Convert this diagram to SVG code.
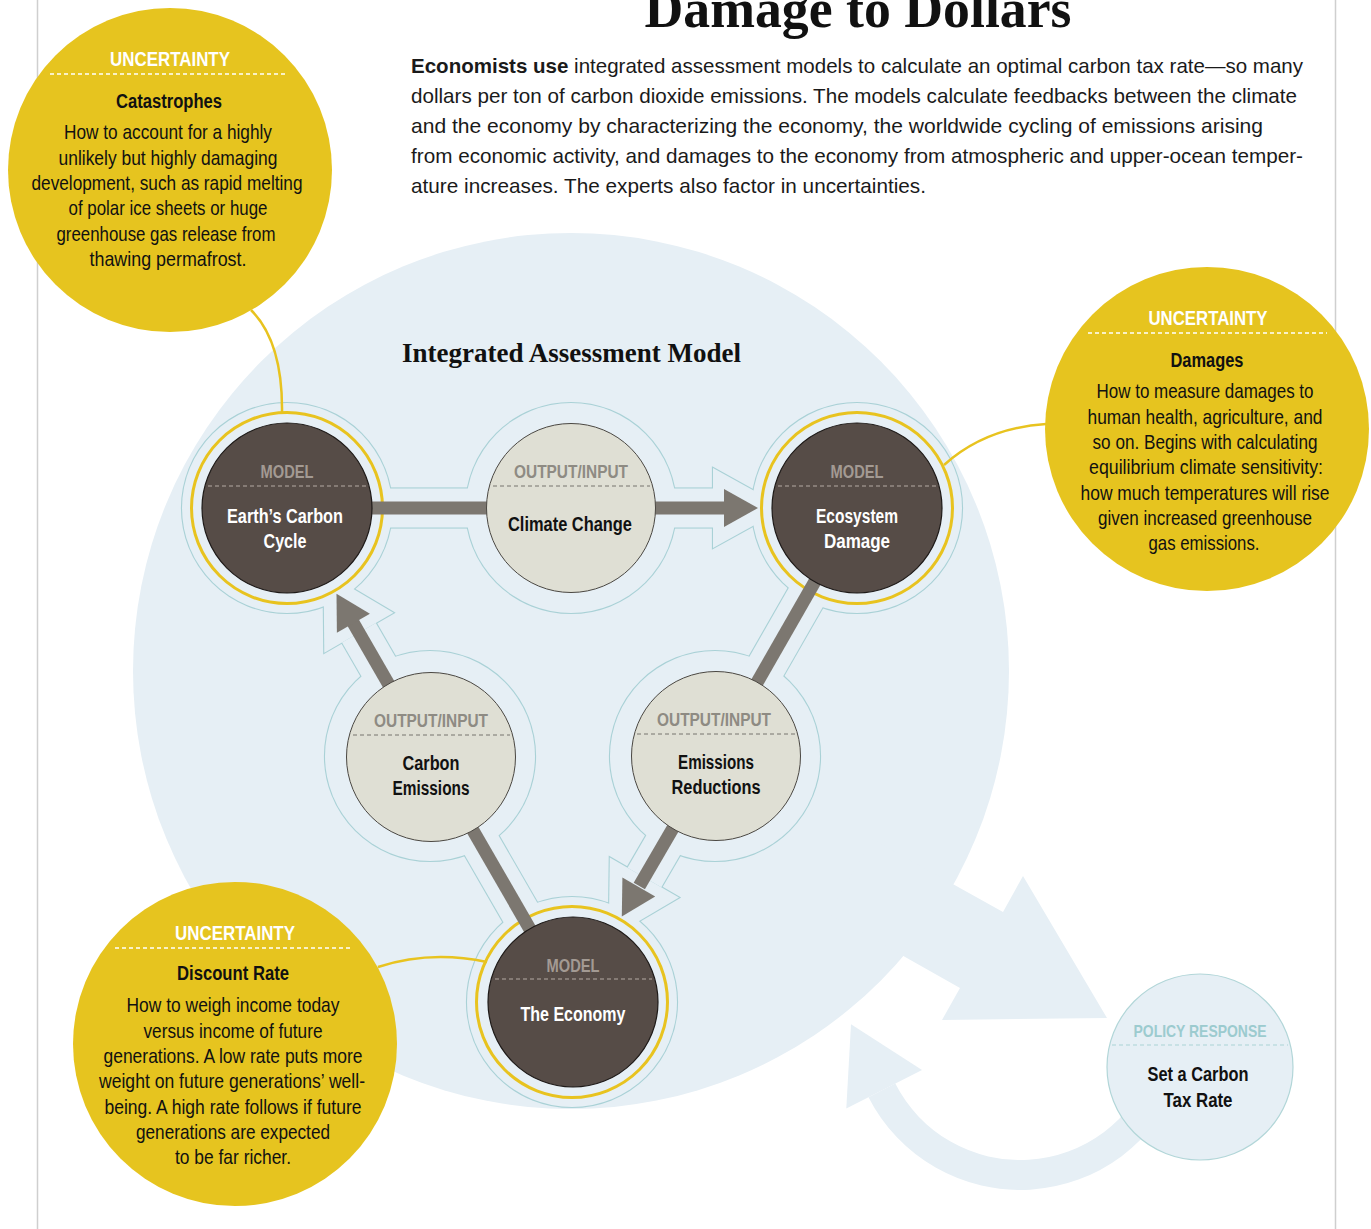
<svg xmlns="http://www.w3.org/2000/svg" xmlns:xlink="http://www.w3.org/1999/xlink" width="1371" height="1229" viewBox="0 0 1371 1229">
<style>
.sans{font-family:"Liberation Sans Narrow","Liberation Sans",Arial,sans-serif;}
.serif{font-family:"Liberation Serif","Times New Roman",serif;}
.bg{fill:#e6eff5;}
.yc{fill:#e6c41f;}
.ring{fill:none;stroke:#e8c31f;stroke-width:3;}
.lead{fill:none;stroke:#e8c31f;stroke-width:2.5;}
.dark{fill:#564c47;stroke:#1e1a18;stroke-width:1.2;}
.light{fill:#dfdfd4;stroke:#4a4742;stroke-width:1;}
.bar{stroke:#7c7770;stroke-width:13;fill:none;}
.head{fill:#7c7770;}
.mlab{fill:#a39a93;font-size:18px;font-weight:bold;text-anchor:middle;}
.olab{fill:#8e8b83;font-size:18px;font-weight:bold;text-anchor:middle;}
.dwhite{fill:#ffffff;font-size:20px;font-weight:bold;text-anchor:middle;}
.dblack{fill:#111111;font-size:20px;font-weight:bold;text-anchor:middle;}
.ddash{stroke:#b3aaa3;stroke-width:1.2;stroke-dasharray:4 3;}
.ldash{stroke:#77746e;stroke-width:1;stroke-dasharray:4 3;}
.ydash{stroke:#ffffff;stroke-width:1.3;stroke-dasharray:4 3;}
.uhead{fill:#ffffff;font-size:20px;font-weight:bold;text-anchor:middle;}
.utitle{fill:#111111;font-size:20px;font-weight:bold;text-anchor:middle;}
.ubody{fill:#111111;font-size:21px;text-anchor:middle;}
.para{fill:#1a1a1a;font-size:21px;}
</style>
<defs>
<g id="haloShapes">
<circle cx="287" cy="508" r="105"/>
<circle cx="571" cy="508" r="105"/>
<circle cx="857" cy="508" r="105"/>
<circle cx="430" cy="756" r="105"/>
<circle cx="715" cy="756" r="105"/>
<circle cx="572" cy="1002" r="105"/>
<rect x="287" y="488.5" width="284" height="39"/>
<rect x="571" y="488.5" width="142" height="39"/>
<polygon points="713,468 785,508 713,548"/>
<polygon points="873.9,517.7 731.9,765.7 698.1,746.3 840.1,498.3"/>
<polygon points="731.9,765.8 698.1,746.2 627.5,867.7 661.3,887.3"/>
<polygon points="679.0,897.6 608.7,938.9 609.8,857.4"/>
<polygon points="588.9,992.25 446.9,746.25 413.1,765.75 555.1,1011.75"/>
<polygon points="446.9,746.3 413.1,765.7 342.0,642.4 375.8,622.9"/>
<polygon points="393.5,612.7 323.5,571.2 324.3,652.7"/>
</g>
</defs>
<rect width="1371" height="1229" fill="#ffffff"/>
<g id="page-borders">
<line x1="37.5" y1="0" x2="37.5" y2="1229" stroke="#cfcfcf" stroke-width="1.5"/>
<line x1="1335.5" y1="0" x2="1335.5" y2="1229" stroke="#cfcfcf" stroke-width="1.5"/>
</g>
<g id="model-background">
<circle class="bg" cx="571" cy="671" r="438"/>
<polygon class="bg" points="872,839 1003,912 1023,876 1107,1018 942,1020 960,988 829,914"/>
<path class="bg" d="M1179.7,1078.1 A170,170 0 0 1 868.5,1097.2 L895.3,1083.6 A140,140 0 0 0 1151.6,1067.9 Z"/>
<polygon class="bg" points="922,1069.9 846.3,1108.5 851,1024.2"/>
</g>
<g id="halo">
<use xlink:href="#haloShapes" href="#haloShapes" fill="none" stroke="#a9d1d6" stroke-width="2.2"/>
<use xlink:href="#haloShapes" href="#haloShapes" fill="#e6eff5" stroke="none"/>
</g>
<g id="leaders">
<path class="lead" d="M251,310 Q283,342 282,413"/>
<path class="lead" d="M944,465 Q985,428 1046,424"/>
<path class="lead" d="M378,967 Q430,950 487,962"/>
</g>
<g id="rings">
<circle class="ring" cx="287" cy="508" r="95.5"/>
<circle class="ring" cx="857" cy="508" r="95.5"/>
<circle class="ring" cx="572" cy="1002" r="95.5"/>
</g>
<g id="connectors">
<line class="bar" x1="287" y1="508" x2="571" y2="508"/>
<line class="bar" x1="571" y1="508" x2="725" y2="508"/>
<polygon class="head" points="724,489 758,508 724,527"/>
<line class="bar" x1="857" y1="508" x2="715" y2="756"/>
<line class="bar" x1="715" y1="756" x2="639.3" y2="886.1"/>
<polygon class="head" points="655.2,896.5 621.8,916.4 622.4,877.5"/>
<line class="bar" x1="572" y1="1002" x2="430" y2="756"/>
<line class="bar" x1="430" y1="756" x2="352.9" y2="622.3"/>
<polygon class="head" points="369.9,613.7 336.5,593.8 336.9,632.7"/>
</g>
<g id="node-earth">
<circle class="dark" cx="287" cy="508" r="85"/>
<text class="sans mlab" x="287" y="478" textLength="53" lengthAdjust="spacingAndGlyphs">MODEL</text>
<line class="ddash" x1="208" y1="486" x2="366" y2="486"/>
<text class="sans dwhite" x="285" y="523" textLength="116" lengthAdjust="spacingAndGlyphs">Earth’s Carbon</text>
<text class="sans dwhite" x="285" y="548" textLength="43" lengthAdjust="spacingAndGlyphs">Cycle</text>
</g>
<g id="node-climate">
<circle class="light" cx="571" cy="508" r="84.5"/>
<text class="sans olab" x="571" y="478" textLength="114" lengthAdjust="spacingAndGlyphs">OUTPUT/INPUT</text>
<line class="ldash" x1="493" y1="486" x2="650" y2="486"/>
<text class="sans dblack" x="570" y="531" textLength="124" lengthAdjust="spacingAndGlyphs">Climate Change</text>
</g>
<g id="node-ecosystem">
<circle class="dark" cx="857" cy="508" r="85"/>
<text class="sans mlab" x="857" y="478" textLength="53" lengthAdjust="spacingAndGlyphs">MODEL</text>
<line class="ddash" x1="778" y1="486" x2="936" y2="486"/>
<text class="sans dwhite" x="857" y="523" textLength="82" lengthAdjust="spacingAndGlyphs">Ecosystem</text>
<text class="sans dwhite" x="857" y="548" textLength="66" lengthAdjust="spacingAndGlyphs">Damage</text>
</g>
<g id="node-carbon-emissions">
<circle class="light" cx="431" cy="757" r="84.5"/>
<text class="sans olab" x="431" y="727" textLength="114" lengthAdjust="spacingAndGlyphs">OUTPUT/INPUT</text>
<line class="ldash" x1="353" y1="735" x2="510" y2="735"/>
<text class="sans dblack" x="431" y="770" textLength="57" lengthAdjust="spacingAndGlyphs">Carbon</text>
<text class="sans dblack" x="431" y="795" textLength="77" lengthAdjust="spacingAndGlyphs">Emissions</text>
</g>
<g id="node-emissions-reductions">
<circle class="light" cx="716" cy="756" r="84.5"/>
<text class="sans olab" x="714" y="726" textLength="114" lengthAdjust="spacingAndGlyphs">OUTPUT/INPUT</text>
<line class="ldash" x1="637" y1="734" x2="795" y2="734"/>
<text class="sans dblack" x="716" y="769" textLength="76" lengthAdjust="spacingAndGlyphs">Emissions</text>
<text class="sans dblack" x="716" y="794" textLength="89" lengthAdjust="spacingAndGlyphs">Reductions</text>
</g>
<g id="node-economy">
<circle class="dark" cx="573" cy="1002" r="85"/>
<text class="sans mlab" x="573" y="972" textLength="53" lengthAdjust="spacingAndGlyphs">MODEL</text>
<line class="ddash" x1="495" y1="979" x2="652" y2="979"/>
<text class="sans dwhite" x="573" y="1021" textLength="105" lengthAdjust="spacingAndGlyphs">The Economy</text>
</g>
<g id="uncertainty-catastrophes">
<circle class="yc" cx="170" cy="170" r="162"/>
<text class="sans uhead" x="170" y="66" textLength="120" lengthAdjust="spacingAndGlyphs">UNCERTAINTY</text>
<line class="ydash" x1="50" y1="74" x2="287" y2="74"/>
<text class="sans utitle" x="169" y="108" textLength="106" lengthAdjust="spacingAndGlyphs">Catastrophes</text>
<text class="sans ubody" x="168" y="139" textLength="208" lengthAdjust="spacingAndGlyphs">How to account for a highly</text>
<text class="sans ubody" x="168" y="165" textLength="219" lengthAdjust="spacingAndGlyphs">unlikely but highly damaging</text>
<text class="sans ubody" x="167" y="190" textLength="271" lengthAdjust="spacingAndGlyphs">development, such as rapid melting</text>
<text class="sans ubody" x="168" y="215" textLength="199" lengthAdjust="spacingAndGlyphs">of polar ice sheets or huge</text>
<text class="sans ubody" x="166" y="241" textLength="219" lengthAdjust="spacingAndGlyphs">greenhouse gas release from</text>
<text class="sans ubody" x="168" y="266" textLength="157" lengthAdjust="spacingAndGlyphs">thawing permafrost.</text>
</g>
<g id="uncertainty-damages">
<circle class="yc" cx="1207" cy="429" r="162"/>
<text class="sans uhead" x="1208" y="325" textLength="119" lengthAdjust="spacingAndGlyphs">UNCERTAINTY</text>
<line class="ydash" x1="1088" y1="333" x2="1327" y2="333"/>
<text class="sans utitle" x="1207" y="367" textLength="73" lengthAdjust="spacingAndGlyphs">Damages</text>
<text class="sans ubody" x="1205" y="398" textLength="217" lengthAdjust="spacingAndGlyphs">How to measure damages to</text>
<text class="sans ubody" x="1205" y="424" textLength="235" lengthAdjust="spacingAndGlyphs">human health, agriculture, and</text>
<text class="sans ubody" x="1205" y="449" textLength="225" lengthAdjust="spacingAndGlyphs">so on. Begins with calculating</text>
<text class="sans ubody" x="1206" y="474" textLength="234" lengthAdjust="spacingAndGlyphs">equilibrium climate sensitivity:</text>
<text class="sans ubody" x="1205" y="500" textLength="249" lengthAdjust="spacingAndGlyphs">how much temperatures will rise</text>
<text class="sans ubody" x="1205" y="525" textLength="214" lengthAdjust="spacingAndGlyphs">given increased greenhouse</text>
<text class="sans ubody" x="1204" y="550" textLength="111" lengthAdjust="spacingAndGlyphs">gas emissions.</text>
</g>
<g id="uncertainty-discount">
<circle class="yc" cx="235" cy="1044" r="162"/>
<text class="sans uhead" x="235" y="940" textLength="120" lengthAdjust="spacingAndGlyphs">UNCERTAINTY</text>
<line class="ydash" x1="115" y1="948" x2="353" y2="948"/>
<text class="sans utitle" x="233" y="980" textLength="112" lengthAdjust="spacingAndGlyphs">Discount Rate</text>
<text class="sans ubody" x="233" y="1012" textLength="213" lengthAdjust="spacingAndGlyphs">How to weigh income today</text>
<text class="sans ubody" x="233" y="1038" textLength="179" lengthAdjust="spacingAndGlyphs">versus income of future</text>
<text class="sans ubody" x="233" y="1063" textLength="259" lengthAdjust="spacingAndGlyphs">generations. A low rate puts more</text>
<text class="sans ubody" x="232" y="1088" textLength="266" lengthAdjust="spacingAndGlyphs">weight on future generations’ well-</text>
<text class="sans ubody" x="233" y="1114" textLength="257" lengthAdjust="spacingAndGlyphs">being. A high rate follows if future</text>
<text class="sans ubody" x="233" y="1139" textLength="194" lengthAdjust="spacingAndGlyphs">generations are expected</text>
<text class="sans ubody" x="233" y="1164" textLength="116" lengthAdjust="spacingAndGlyphs">to be far richer.</text>
</g>
<g id="policy-response">
<circle cx="1200" cy="1067" r="93" fill="#e6eff5" stroke="#b2d6d8" stroke-width="1.2"/>
<text class="sans" x="1200" y="1037" font-size="17" font-weight="bold" fill="#9ccbcf" text-anchor="middle" textLength="133" lengthAdjust="spacingAndGlyphs">POLICY RESPONSE</text>
<line x1="1112" y1="1045" x2="1288" y2="1045" stroke="#a9d3d6" stroke-width="1.2" stroke-dasharray="4 3"/>
<text class="sans dblack" x="1198" y="1081" textLength="101" lengthAdjust="spacingAndGlyphs">Set a Carbon</text>
<text class="sans dblack" x="1198" y="1107" textLength="69" lengthAdjust="spacingAndGlyphs">Tax Rate</text>
</g>
<g id="titles">
<text class="serif" x="858" y="27" font-size="54" font-weight="bold" fill="#111" text-anchor="middle" textLength="427" lengthAdjust="spacingAndGlyphs">Damage to Dollars</text>
<text class="serif" x="571.5" y="362" font-size="27" font-weight="bold" fill="#111" text-anchor="middle" textLength="339" lengthAdjust="spacingAndGlyphs">Integrated Assessment Model</text>
</g>
<g id="intro">
<text class="sans para" x="411" y="73" textLength="892" lengthAdjust="spacingAndGlyphs"><tspan font-weight="bold">Economists use</tspan> integrated assessment models to calculate an optimal carbon tax rate—so many</text>
<text class="sans para" x="411" y="103" textLength="886" lengthAdjust="spacingAndGlyphs">dollars per ton of carbon dioxide emissions. The models calculate feedbacks between the climate</text>
<text class="sans para" x="411" y="133" textLength="852" lengthAdjust="spacingAndGlyphs">and the economy by characterizing the economy, the worldwide cycling of emissions arising</text>
<text class="sans para" x="411" y="163" textLength="892" lengthAdjust="spacingAndGlyphs">from economic activity, and damages to the economy from atmospheric and upper-ocean temper-</text>
<text class="sans para" x="411" y="193" textLength="515" lengthAdjust="spacingAndGlyphs">ature increases. The experts also factor in uncertainties.</text>
</g>
</svg>
